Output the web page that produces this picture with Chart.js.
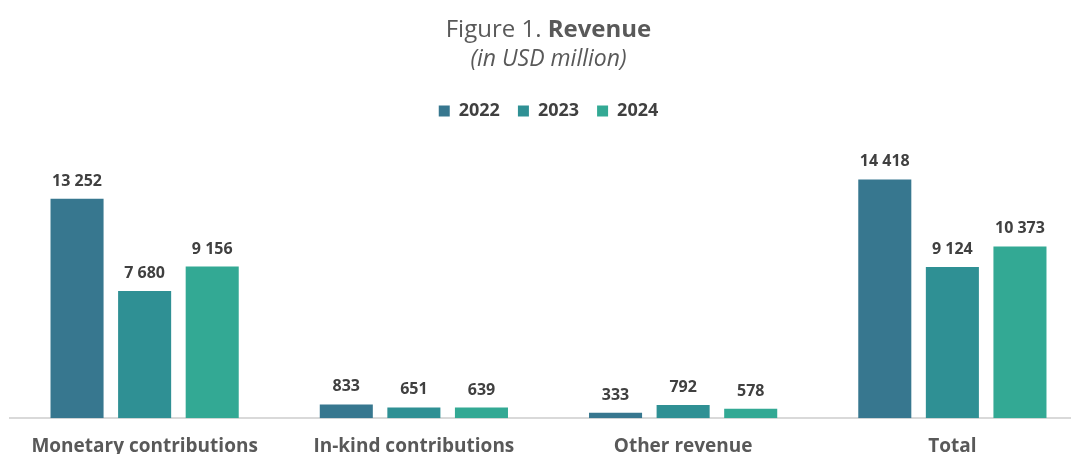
<!DOCTYPE html>
<html>
<head>
<meta charset="utf-8">
<script src="https://cdn.jsdelivr.net/npm/chart.js@4"></script>
<style>
  html, body { margin: 0; padding: 0; background: #fff; overflow: hidden; }
  #wrap { width: 1097px; height: 454px; position: relative; }
</style>
</head>
<body>
<div id="wrap"><canvas id="revenue"></canvas></div>
<script>
const categories = ['Monetary contributions', 'In-kind contributions', 'Other revenue', 'Total'];
const years = ['2022', '2023', '2024'];
const revenue2022 = [13252, 833, 333, 14418];
const revenue2023 = [7680, 651, 792, 9124];
const revenue2024 = [9156, 639, 578, 10373];
const yearColors = ['#37778f', '#2f9094', '#33a994'];

const FONT = "'Open Sans', 'Noto Sans', sans-serif";

const fmt = (v) => String(v).replace(/\B(?=(\d{3})+(?!\d))/g, ' ');

// Two-line heading with a bold word in the first line
const headingPlugin = {
  id: 'heading',
  afterDraw(chart) {
    const { ctx, width } = chart;
    const cx = width / 2;
    ctx.save();
    ctx.fillStyle = '#595959';
    ctx.textBaseline = 'alphabetic';
    const light = `400 24px ${FONT}`;
    const bold = `700 24px ${FONT}`;
    const a = 'Figure 1. ';
    const b = 'Revenue';
    ctx.font = light;
    const wa = ctx.measureText(a).width;
    ctx.font = bold;
    const wb = ctx.measureText(b).width;
    const x0 = cx - (wa + wb) / 2;
    ctx.textAlign = 'left';
    ctx.font = light;
    ctx.fillText(a, x0, 37);
    ctx.font = bold;
    ctx.fillText(b, x0 + wa, 37);
    ctx.font = `italic 400 23px ${FONT}`;
    ctx.textAlign = 'center';
    ctx.fillText('(in USD million)', cx, 66);
    ctx.restore();
  }
};

// Value labels above each bar
const valueLabels = {
  id: 'valueLabels',
  afterDatasetsDraw(chart) {
    const { ctx } = chart;
    ctx.save();
    ctx.font = `700 16px ${FONT}`;
    ctx.fillStyle = '#404040';
    ctx.textAlign = 'center';
    ctx.textBaseline = 'alphabetic';
    chart.data.datasets.forEach((ds, i) => {
      chart.getDatasetMeta(i).data.forEach((bar, j) => {
        ctx.fillText(fmt(ds.data[j]), bar.x, bar.y - 13);
      });
    });
    ctx.restore();
  }
};

new Chart(document.getElementById('revenue'), {
  type: 'bar',
  data: {
    labels: categories,
    datasets: [revenue2022, revenue2023, revenue2024].map((d, i) => ({
      label: years[i],
      data: d,
      backgroundColor: yearColors[i],
      borderWidth: 0
    }))
  },
  options: {
    responsive: true,
    maintainAspectRatio: false,
    animation: false,
    categoryPercentage: 0.753,
    barPercentage: 0.785,
    layout: { padding: { top: 84, left: 10, right: 10, bottom: -21 } },
    plugins: {
      title: { display: false },
      tooltip: { enabled: false },
      legend: {
        position: 'top',
        labels: {
          boxWidth: 11,
          boxHeight: 11,
          padding: 18,
          color: '#404040',
          font: { family: FONT, size: 18, weight: '700' }
        }
      }
    },
    scales: {
      x: {
        grid: { display: false, drawTicks: false },
        border: { display: true, color: '#d9d9d9', width: 2 },
        ticks: {
          color: '#595959',
          padding: 17,
          font: { family: FONT, size: 19, weight: '700' }
        }
      },
      y: {
        display: false,
        min: 0,
        max: 17400
      }
    }
  },
  plugins: [headingPlugin, valueLabels]
});
</script>
</body>
</html>
